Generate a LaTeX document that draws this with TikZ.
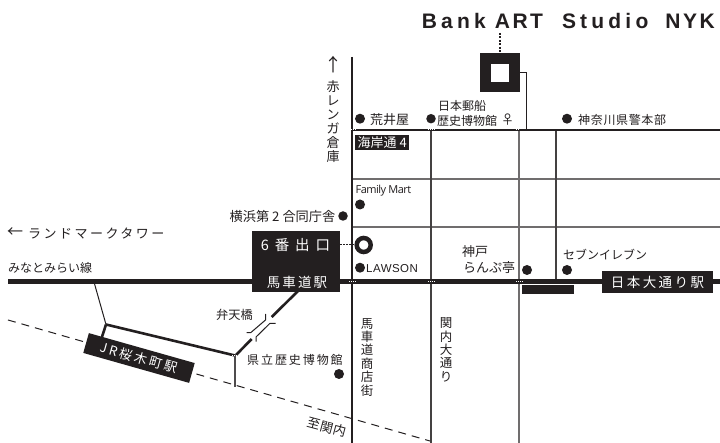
\documentclass[tikz,border=0pt]{standalone}
\usepackage{fontspec}
\setmainfont{Noto Sans CJK JP}
\newfontfamily\lat{Liberation Sans}
\newfontfamily\narrow{Open Sans}
\definecolor{ink}{HTML}{231F20}
\tikzset{
  x=1pt,y=-1pt,
  lab/.style={inner sep=0pt,text=ink,font=\fontsize{12}{13}\selectfont},
  vlab/.style={lab,align=center,font=\fontsize{12.5}{13.4}\selectfont},
  wht/.style={inner sep=0pt,text=white},
  dot/.style={circle,fill=ink,inner sep=0pt,minimum size=10pt},
  road/.style={draw=ink!85,line width=1.1pt},
  groad/.style={draw=ink!65,line width=1.3pt},
  mainroad/.style={draw=ink,line width=2.2pt},
  thickrail/.style={draw=ink,line width=2.6pt},
  thin/.style={draw=ink,line width=1pt},
  dashline/.style={draw=ink,line width=1pt,dash pattern=on 8pt off 6pt},
  xing/.style={draw=white,line width=.8pt,dash pattern=on 1.2pt off .9pt},
  blk/.style={fill=ink,draw=none}
}
\begin{document}
\begin{tikzpicture}
\useasboundingbox (0,0) rectangle (720,443);
\fill[white] (0,0) rectangle (720,443);
% coordinates
\coordinate (tl) at (352,130); \coordinate (tr) at (720,130);
\coordinate (mt) at (352,57);  \coordinate (mb) at (352,443);
\coordinate (railL) at (8,282); \coordinate (railR) at (720,282);
% roads
\draw[groad] (352,179) -- (720,179);
\draw[groad] (352,227) -- (720,227);
\draw[road] (431,130) -- (431,443);
\draw[groad] (519,130) -- (519,443);
\draw[road] (556,130) -- (556,282);
\draw[mainroad] (mt) -- (mb);
\draw[draw=ink,line width=2.5pt] (tl) -- (tr);
\draw[draw=ink,line width=5pt] (railL) -- (railR);
% crossing marks
\draw[xing] (348.5,129.4) -- (356,129.4);
\draw[xing] (428,129.4) -- (435,129.4);
\draw[xing] (516,129.4) -- (522.5,129.4);
\draw[xing] (349,281.7) -- (355.5,281.7);
\draw[xing] (428,281.7) -- (434.5,281.7);
\draw[xing] (516,281.7) -- (522.5,281.7);
% dashed line
\draw[dashline] (8,320) -- (430,441);
% JR lines
\coordinate (ja) at (106,324.5);
\draw[draw=ink,line width=1pt] (94,282) -- (ja);
\draw[thickrail] (ja) -- (235,355.5);
\draw[thickrail] (ja) -- (101,340);
\draw[draw=ink!80,line width=1.2pt] (235,355) -- (235,387);
\draw[thickrail] (236,355) -- (251.7,339);
\draw[thickrail] (271.7,317) -- (298,291);
\draw[xing] (232,355.7) -- (239,355.7);
% bridge
\draw[thin] (246.7,332.7) -- (250.7,332.7) -- (265.5,320) -- (265.7,314);
\draw[thin] (256,341.7) -- (256,337) -- (270,323.3) -- (275.7,323.3);
% connector to station
\draw[thin] (519,130) -- (526.5,130) -- (526.5,72.5) -- (519,72.5);
% building
\fill[ink] (480,53.3) rectangle (519.5,92.3);
\fill[white] (491,64) rectangle (509,82);
\draw[draw=ink,line width=1.2pt,dash pattern=on 2pt off 1.5pt] (500,33) -- (500,53);
\node[lab,anchor=base west,font=\lat\bfseries\fontsize{21}{21}\selectfont] (ttl) at (421.7,29) {{\addfontfeature{LetterSpace=20}Bank}\hspace{9pt}{\addfontfeature{LetterSpace=12}ART}\hspace{19pt}{\addfontfeature{LetterSpace=20}Studio}\hspace{17pt}{\addfontfeature{LetterSpace=12}NYK}};
% left column text
\node[lab,anchor=center,font=\fontsize{18}{18}\selectfont] (ar) at (333,65) {↑};
\node[vlab,anchor=north,font=\fontsize{13}{14}\selectfont] (aka) at (333,80) {赤\\レ\\ン\\ガ\\倉\\庫};
% POI row
\node[dot] (d1) at (360,118.7) {};
\node[lab,anchor=west,font=\fontsize{13}{14}\selectfont] (t1) at (370,120) {荒井屋};
\node[dot,minimum size=9.5pt] (d2) at (431,118.7) {};
\node[lab,anchor=west] (t2a) at (438,105.5) {日本郵船};
\node[lab,anchor=west] (t2b) at (437,121) {歴史博物館};
\node[lab,anchor=center,font=\fontsize{13}{14}\selectfont] (t2c) at (507.5,120) {♀};
\node[dot] (d3) at (567,118.7) {};
\node[lab,anchor=west,font=\fontsize{12}{13}\selectfont] (t3) at (578,120) {\addfontfeature{LetterSpace=5.5}神奈川県警本部};
% tag
\node[blk,inner sep=0pt,minimum width=54pt,minimum height=15pt,anchor=north west,text=white,font=\fontsize{13}{13}\selectfont] (kg) at (355,135) {海岸通 4};
% Family mart
\node[lab,anchor=west,font=\narrow\fontsize{11}{12}\selectfont] (fm) at (355.5,191) {\addfontfeature{LetterSpace=-5}Family Mart};
\node[dot] (d4) at (360,204.5) {};
\node[dot,minimum size=9.5pt] (d5) at (343,216) {};
\node[lab,anchor=east,font=\fontsize{13.2}{14}\selectfont] (t5) at (335.5,216) {横浜第 2 合同庁舎};
% six exit
\fill[ink] (252,231) rectangle (340,292);
\node[wht,font=\fontsize{14.5}{15}\selectfont] (six) at (295.5,245) {\addfontfeature{LetterSpace=18}6 番 出 口};
\node[wht,font=\fontsize{13.5}{14}\selectfont] (bas) at (297,282) {\addfontfeature{LetterSpace=15}馬車道駅};
\draw[draw=ink,line width=1pt,dash pattern=on 1.5pt off 1.5pt] (340,244.5) -- (356,244.5);
\node[circle,draw=ink,line width=4.5pt,fill=white,minimum size=14pt,inner sep=0pt] (exit) at (363.7,245) {};
\node[dot] (d6) at (360,267.7) {};
\node[lab,anchor=west,font=\lat\fontsize{11.5}{13}\selectfont] (law) at (366,268.5) {\addfontfeature{LetterSpace=4}LAWSON};
% left labels
\node[lab,anchor=west,font=\fontsize{16}{16}\selectfont] (lmar) at (7,233) {←};
\node[lab,anchor=west,font=\fontsize{13}{14}\selectfont] (lm) at (28,233.5) {\addfontfeature{LetterSpace=19}ランドマークタワー};
\node[lab,anchor=west,font=\fontsize{12}{13}\selectfont] (mm) at (8,268) {みなとみらい線};
% kobe
\node[lab,anchor=west,font=\fontsize{13}{14}\selectfont] (kb1) at (462,252) {神戸};
\node[lab,anchor=west,font=\fontsize{13}{14}\selectfont] (kb2) at (463,268) {らんぷ亭};
\node[dot] (d7) at (527,270) {};
\node[lab,anchor=west,font=\fontsize{12}{13}\selectfont] (se) at (563,255) {セブンイレブン};
\node[dot] (d8) at (567,270) {};
% station right
\fill[ink] (522,285) rectangle (574,294);
\node[blk,minimum width=111pt,minimum height=22pt,anchor=center,text=white,font=\fontsize{13.5}{14}\selectfont] (nh) at (657.5,282) {\addfontfeature{LetterSpace=18}日本大通り駅};
% lower
\node[lab,anchor=center,font=\fontsize{12.2}{13}\selectfont] (bt) at (234.5,315) {弁天橋};
\node[lab,anchor=west,font=\fontsize{12}{13}\selectfont] (ken) at (247,360) {\addfontfeature{LetterSpace=16}県立歴史博物館};
\node[dot] (d9) at (339,374) {};
\node[vlab,anchor=north] (bs) at (367,318) {馬\\車\\道\\商\\店\\街};
\node[vlab,anchor=north] (kd) at (446,317.5) {関\\内\\大\\通\\り};
\node[lab,rotate=-15,font=\fontsize{13}{14}\selectfont] (sk) at (327,427) {至関内};
\node[blk,rotate=-15.8,minimum width=110pt,minimum height=20.6pt,inner sep=0pt,text=white,font=\fontsize{13}{14}\selectfont] (jr) at (139,358) {\addfontfeature{LetterSpace=18}JR桜木町駅};
\end{tikzpicture}
\end{document}
